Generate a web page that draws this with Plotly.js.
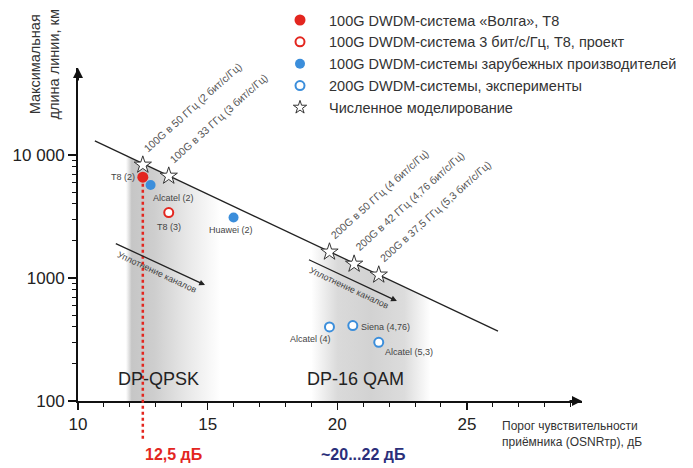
<!DOCTYPE html>
<html><head><meta charset="utf-8">
<script src="https://cdn.plot.ly/plotly-3.0.1.min.js"></script>
<style>html,body{margin:0;padding:0;background:#fff}#chart{width:693px;height:468px}</style>
</head><body><div id="chart"></div>
<script>
// ---------- data ----------
const legendNames = [
  '100G DWDM-система «Волга», Т8',
  '100G DWDM-система 3 бит/с/Гц, Т8, проект',
  '100G DWDM-системы зарубежных производителей',
  '200G DWDM-системы, эксперименты',
  'Численное моделирование'
];
const volgaX = [12.5], volgaY = [6600], volgaLabels = ['T8 (2)'];
const projX = [13.5], projY = [3400], projLabels = ['T8 (3)'];
const foreignX = [12.8, 16.0], foreignY = [5700, 3100], foreignLabels = ['Alcatel (2)', 'Huawei (2)'];
const expX = [19.7, 20.6, 21.6], expY = [400, 410, 300], expLabels = ['Alcatel (4)', 'Siena (4,76)', 'Alcatel (5,3)'];
const simX = [12.5, 13.5, 19.7, 20.65, 21.6], simY = [8300, 6750, 1630, 1300, 1060];
const simLabels = ['100G в 50 ГГц (2 бит/с/Гц)', '100G в 33 ГГц (3 бит/с/Гц)',
  '200G в 50 ГГц (4 бит/с/Гц)', '200G в 42 ГГц (4,76 бит/с/Гц)', '200G в 37,5 ГГц (5,3 бит/с/Гц)'];
const trendX = [10.65, 26.2], trendY = [13000, 370];
const bandX = [[11.85, 15.5], [19.0, 23.6]];
const bandNames = ['DP-QPSK', 'DP-16 QAM'];
const bandLabelX = [13.1, 20.7], bandLabelY = [150, 150];
const densStartX = [11.4, 18.85], densStartY = [1930, 1425];
const densEndX = [14.9, 22.3], densEndY = [877, 650];
const densLabel = 'Уплотнение каналов';
const thresholdX = [12.5, 21.0];
const thresholdLabels = ['12,5 дБ', '~20...22 дБ'];
const xTickVals = [10, 15, 20, 25];
const yTickVals = [100, 1000, 10000], yTickText = ['100', '1000', '10 000'];
const yTitle = 'Максимальная<br>длина линии, км';
const xTitle = 'Порог чувствительности<br>приёмника (OSNRтр), дБ';

// ---------- geometry ----------
const X_MIN = 10, X_MAX = 29.44, YL_MIN = 2, YL_MAX = 4.707;
const FONT = 'Liberation Sans, Arial, sans-serif';
const RED = '#e3261f', BLUE = '#3b8edb', INK = '#333333';
const L = Math.log10;
function trendAt(x) {
  const a = L(trendY[0]), b = L(trendY[1]);
  return Math.pow(10, a + (x - trendX[0]) * (b - a) / (trendX[1] - trendX[0]));
}
const px = x => (x - X_MIN) / (X_MAX - X_MIN);
const py = y => (L(y) - YL_MIN) / (YL_MAX - YL_MIN);

const bandScales = [
  [[0, 'rgb(255,255,255)'], [0.06, 'rgb(198,198,198)'], [0.3, 'rgb(206,206,206)'], [0.65, 'rgb(232,232,232)'], [1, 'rgb(255,255,255)']],
  [[0, 'rgb(255,255,255)'], [0.22, 'rgb(218,218,218)'], [0.5, 'rgb(210,210,210)'], [0.78, 'rgb(220,220,220)'], [1, 'rgb(255,255,255)']]
];

const traces = [];
bandX.forEach((b, i) => {
  traces.push({
    x: [b[0], b[0], b[1], b[1], b[0]],
    y: [100, trendAt(b[0]), trendAt(b[1]), 100, 100],
    mode: 'lines', line: {width: 0}, fill: 'toself',
    fillgradient: {type: 'horizontal', colorscale: bandScales[i]},
    showlegend: false, hoverinfo: 'skip'
  });
});
traces.push({x: trendX, y: trendY, mode: 'lines', line: {color: '#222', width: 1.3}, showlegend: false, hoverinfo: 'skip'});
traces.push({x: volgaX, y: volgaY, name: legendNames[0], mode: 'markers', marker: {color: RED, size: 11}});
traces.push({x: projX, y: projY, name: legendNames[1], mode: 'markers', marker: {color: '#fff', size: 9, line: {color: RED, width: 2}}});
traces.push({x: foreignX, y: foreignY, name: legendNames[2], mode: 'markers', marker: {color: BLUE, size: 10}});
traces.push({x: expX, y: expY, name: legendNames[3], mode: 'markers', marker: {color: '#fff', size: 9, line: {color: BLUE, width: 2}}});
traces.push({x: simX, y: simY, name: legendNames[4], legendgroup: 'sim', showlegend: false, mode: 'markers',
  marker: {symbol: 'star', color: '#fff', size: 13, line: {color: '#333', width: 1}}});
// legend proxy for the star series (smaller symbol in the legend)
traces.push({x: [null], y: [null], name: legendNames[4], legendgroup: 'sim', mode: 'markers',
  marker: {symbol: 'star', color: '#fff', size: 10, line: {color: '#333', width: 1}}});

const ann = [];
function ptLabel(x, y, text, xa, ya, xs, ys) {
  ann.push({x: x, y: L(y), text: text, showarrow: false, xanchor: xa, yanchor: ya, xshift: xs, yshift: ys,
    font: {family: FONT, size: 9, color: '#444'}});
}
ptLabel(volgaX[0], volgaY[0], volgaLabels[0], 'right', 'middle', -6, 0);
ptLabel(projX[0], projY[0], projLabels[0], 'center', 'top', 0, -7);
ptLabel(foreignX[0], foreignY[0], foreignLabels[0], 'left', 'top', 0, -6);
ptLabel(foreignX[1], foreignY[1], foreignLabels[1], 'center', 'top', -3, -5);
ptLabel(expX[0], expY[0], expLabels[0], 'right', 'top', 4, -5);
ptLabel(expX[1], expY[1], expLabels[1], 'left', 'middle', 6, -1);
ptLabel(expX[2], expY[2], expLabels[2], 'left', 'top', 4, -3);

simX.forEach((x, i) => {
  ann.push({x: x, y: L(simY[i]), text: simLabels[i], showarrow: false, textangle: -42,
    xanchor: 'left', yanchor: 'bottom', xshift: -4, yshift: 8,
    font: {family: FONT, size: 10.5, color: '#555'}});
});
densStartX.forEach((x0, i) => {
  ann.push({x: densEndX[i], y: L(densEndY[i]), ax: x0, ay: L(densStartY[i]), axref: 'x', ayref: 'y',
    text: '', showarrow: true, arrowhead: 2, arrowsize: 0.9, arrowwidth: 1.3, arrowcolor: '#222'});
  const mx = (x0 + densEndX[i]) / 2, my = (L(densStartY[i]) + L(densEndY[i])) / 2;
  ann.push({x: mx, y: my, text: densLabel, showarrow: false, textangle: 25, xshift: -3, yshift: -8,
    font: {family: FONT, size: 9, color: '#444'}});
});
bandNames.forEach((t, i) => {
  ann.push({x: bandLabelX[i], y: L(bandLabelY[i]), text: t, showarrow: false,
    font: {family: FONT, size: 18, color: '#222'}});
});
ann.push({xref: 'paper', yref: 'paper', x: px(thresholdX[0]), y: -0.162, yanchor: 'middle', text: '<b>' + thresholdLabels[0] + '</b>',
  showarrow: false, font: {family: FONT, size: 16, color: RED}});
ann.push({xref: 'paper', yref: 'paper', x: px(thresholdX[1]), y: -0.162, yanchor: 'middle', text: '<b>' + thresholdLabels[1] + '</b>',
  showarrow: false, font: {family: FONT, size: 16, color: '#2b2f7a'}});
// axis titles
ann.push({xref: 'paper', yref: 'paper', x: -0.066, y: 1.01, text: yTitle, showarrow: false, textangle: -90,
  xanchor: 'center', yanchor: 'middle', font: {family: FONT, size: 14.5, color: INK}});
ann.push({xref: 'paper', yref: 'paper', x: 0.837, y: -0.1, text: xTitle, showarrow: false, align: 'left',
  xanchor: 'left', yanchor: 'middle', font: {family: FONT, size: 12, color: INK}});
// axis arrows
ann.push({xref: 'paper', yref: 'paper', x: 1, y: 0, ax: -14, ay: 0, text: '', showarrow: true,
  arrowhead: 2, arrowsize: 1, arrowwidth: 2, arrowcolor: '#111'});
ann.push({xref: 'paper', yref: 'paper', x: 0, y: 1, ax: 0, ay: 14, text: '', showarrow: true,
  arrowhead: 2, arrowsize: 1, arrowwidth: 2, arrowcolor: '#111'});

const yMinor = [];
[100, 1000].forEach(d => { for (let k = 2; k <= 9; k++) yMinor.push(d * k); });

const layout = {
  width: 693, height: 468, autosize: false,
  margin: {l: 78, r: 111, t: 68, b: 67, autoexpand: false},
  paper_bgcolor: '#fff', plot_bgcolor: '#fff',
  font: {family: FONT, color: INK},
  xaxis: {range: [X_MIN, X_MAX], showgrid: false, zeroline: false, showline: true, linecolor: '#111', linewidth: 2,
    tickmode: 'array', tickvals: xTickVals, ticks: 'outside', ticklen: 7, tickwidth: 1.5, tickcolor: '#111',
    tickfont: {family: FONT, size: 17, color: '#222'}, automargin: false,
    minor: {dtick: 1, ticks: 'outside', ticklen: 4, tickcolor: '#111', tickwidth: 1}},
  yaxis: {type: 'log', range: [YL_MIN, YL_MAX], showgrid: false, zeroline: false, showline: true, linecolor: '#111', linewidth: 2,
    tickmode: 'array', tickvals: yTickVals, ticktext: yTickText, ticks: 'outside', ticklen: 8, tickwidth: 1.5, tickcolor: '#111',
    tickfont: {family: FONT, size: 17, color: '#222'}, automargin: false,
    minor: {tickmode: 'array', tickvals: yMinor, ticks: 'outside', ticklen: 4, tickcolor: '#111', tickwidth: 1}},
  showlegend: true,
  legend: {x: (271 - 78) / 504, y: 1.192, xanchor: 'left', yanchor: 'top', itemwidth: 48,
    font: {family: FONT, size: 14.5, color: INK}, bgcolor: 'rgba(0,0,0,0)', tracegroupgap: 0},
  shapes: [{type: 'line', xref: 'paper', yref: 'paper', x0: px(volgaX[0]), x1: px(volgaX[0]),
    y0: py(volgaY[0]) - 0.02, y1: -0.117, line: {color: RED, width: 2.5, dash: 'dot'}}],
  annotations: ann
};
Plotly.newPlot('chart', traces, layout, {displayModeBar: false, staticPlot: true});
</script></body></html>
